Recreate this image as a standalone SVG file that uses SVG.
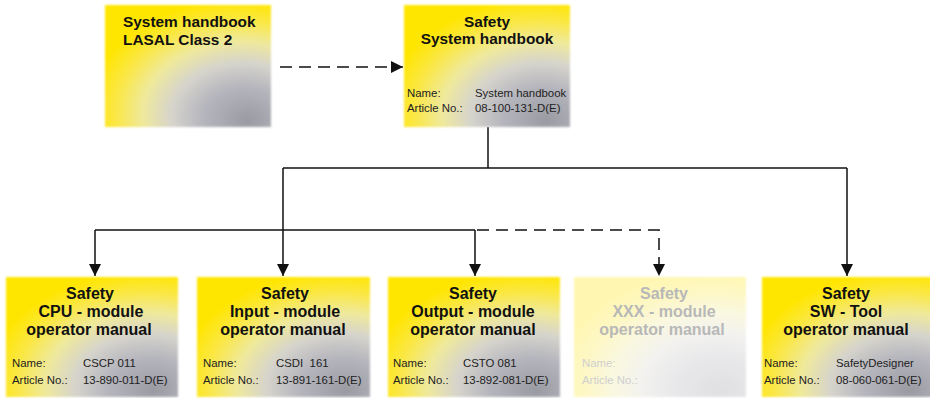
<svg xmlns="http://www.w3.org/2000/svg" width="930" height="398" viewBox="0 0 930 398">
<style>
.t{font-family:"Liberation Sans",Arial,sans-serif;font-weight:bold;font-size:16px;fill:#111}
.tt{font-family:"Liberation Sans",Arial,sans-serif;font-weight:bold;font-size:15.4px;fill:#111}
.s{font-family:"Liberation Sans",Arial,sans-serif;font-size:11.4px;fill:#222;white-space:pre}
.fade .t{fill:#b8b8b8}
.fade .s{fill:#cfcfcf}
.ln{fill:none;stroke:#111;stroke-width:1.5}
.dl{fill:none;stroke:#111;stroke-width:1.5;stroke-dasharray:12 7}
.box{fill:url(#g)}
</style>
<defs>
<radialGradient id="g" cx="0.8" cy="0.86" r="0.9" fx="0.86" fy="0.95">
<stop offset="0" stop-color="#9a9aa2"/>
<stop offset="0.28" stop-color="#b5b5bd"/>
<stop offset="0.48" stop-color="#d6d4cc"/>
<stop offset="0.66" stop-color="#efe99c"/>
<stop offset="0.84" stop-color="#fbe740"/>
<stop offset="1" stop-color="#ffe600"/>
</radialGradient>
<filter id="soft" x="-5%" y="-5%" width="110%" height="110%">
<feGaussianBlur stdDeviation="1.2"/>
</filter>
<marker id="ah" markerUnits="userSpaceOnUse" markerWidth="12" markerHeight="12" refX="12" refY="6" orient="auto">
<path d="M0,0 L12,6 L0,12 z" fill="#111"/>
</marker>
</defs>

<g id="connectors">
<path class="dl" d="M280,67 H403" marker-end="url(#ah)"/>
<path class="ln" d="M488,127 V168"/>
<path class="ln" d="M283,168 H847"/>
<path class="ln" d="M283,168 V276" marker-end="url(#ah)"/>
<path class="ln" d="M847,168 V276" marker-end="url(#ah)"/>
<path class="ln" d="M95,230 H475"/>
<path class="ln" d="M95,230 V276" marker-end="url(#ah)"/>
<path class="ln" d="M475,230 V276" marker-end="url(#ah)"/>
<path class="dl" d="M477,230 H659 V276" marker-end="url(#ah)"/>
</g>

<g id="node-lasal">
<rect class="box" x="105" y="5" width="166" height="122" filter="url(#soft)"/>
<text class="tt" x="123" y="27">System handbook</text>
<text class="tt" x="123" y="45">LASAL Class 2</text>
</g>

<g id="node-safety-system">
<rect class="box" x="404" y="5" width="166" height="122" filter="url(#soft)"/>
<text class="tt" x="487" y="27" text-anchor="middle">Safety</text>
<text class="tt" x="487" y="44" text-anchor="middle">System handbook</text>
<text class="s" x="407" y="97">Name:</text>
<text class="s" x="475" y="97">System handbook</text>
<text class="s" x="407" y="112">Article No.:</text>
<text class="s" x="475" y="112">08-100-131-D(E)</text>
</g>

<g id="node-cpu">
<rect class="box" x="6" y="277" width="172" height="120" filter="url(#soft)"/>
<text class="t" x="90" y="299" text-anchor="middle">Safety</text>
<text class="t" x="91" y="317" text-anchor="middle">CPU - module</text>
<text class="t" x="89" y="335" text-anchor="middle">operator manual</text>
<text class="s" x="12" y="367">Name:</text>
<text class="s" x="83" y="367">CSCP 011</text>
<text class="s" x="12" y="384">Article No.:</text>
<text class="s" x="83" y="384">13-890-011-D(E)</text>
</g>

<g id="node-input">
<rect class="box" x="197" y="277" width="173" height="120" filter="url(#soft)"/>
<text class="t" x="285" y="299" text-anchor="middle">Safety</text>
<text class="t" x="285" y="317" text-anchor="middle">Input - module</text>
<text class="t" x="283" y="335" text-anchor="middle">operator manual</text>
<text class="s" x="203" y="367">Name:</text>
<text class="s" x="276" y="367">CSDI  161</text>
<text class="s" x="203" y="384">Article No.:</text>
<text class="s" x="276" y="384">13-891-161-D(E)</text>
</g>

<g id="node-output">
<rect class="box" x="388" y="277" width="172" height="120" filter="url(#soft)"/>
<text class="t" x="473" y="299" text-anchor="middle">Safety</text>
<text class="t" x="473" y="317" text-anchor="middle">Output - module</text>
<text class="t" x="473" y="335" text-anchor="middle">operator manual</text>
<text class="s" x="393" y="367">Name:</text>
<text class="s" x="463" y="367">CSTO 081</text>
<text class="s" x="393" y="384">Article No.:</text>
<text class="s" x="463" y="384">13-892-081-D(E)</text>
</g>

<g id="node-xxx" class="fade">
<rect class="box" x="574" y="277" width="172" height="120" filter="url(#soft)" opacity="0.3"/>
<text class="t" x="664" y="299" text-anchor="middle">Safety</text>
<text class="t" x="664" y="317" text-anchor="middle">XXX - module</text>
<text class="t" x="662" y="335" text-anchor="middle">operator manual</text>
<text class="s" x="582" y="367">Name:</text>
<text class="s" x="582" y="384">Article No.:</text>
</g>

<g id="node-swtool">
<rect class="box" x="762" y="277" width="172" height="120" filter="url(#soft)"/>
<text class="t" x="846" y="299" text-anchor="middle">Safety</text>
<text class="t" x="846" y="317" text-anchor="middle">SW - Tool</text>
<text class="t" x="846" y="335" text-anchor="middle">operator manual</text>
<text class="s" x="764" y="367">Name:</text>
<text class="s" x="836" y="367">SafetyDesigner</text>
<text class="s" x="764" y="384">Article No.:</text>
<text class="s" x="836" y="384">08-060-061-D(E)</text>
</g>
</svg>
